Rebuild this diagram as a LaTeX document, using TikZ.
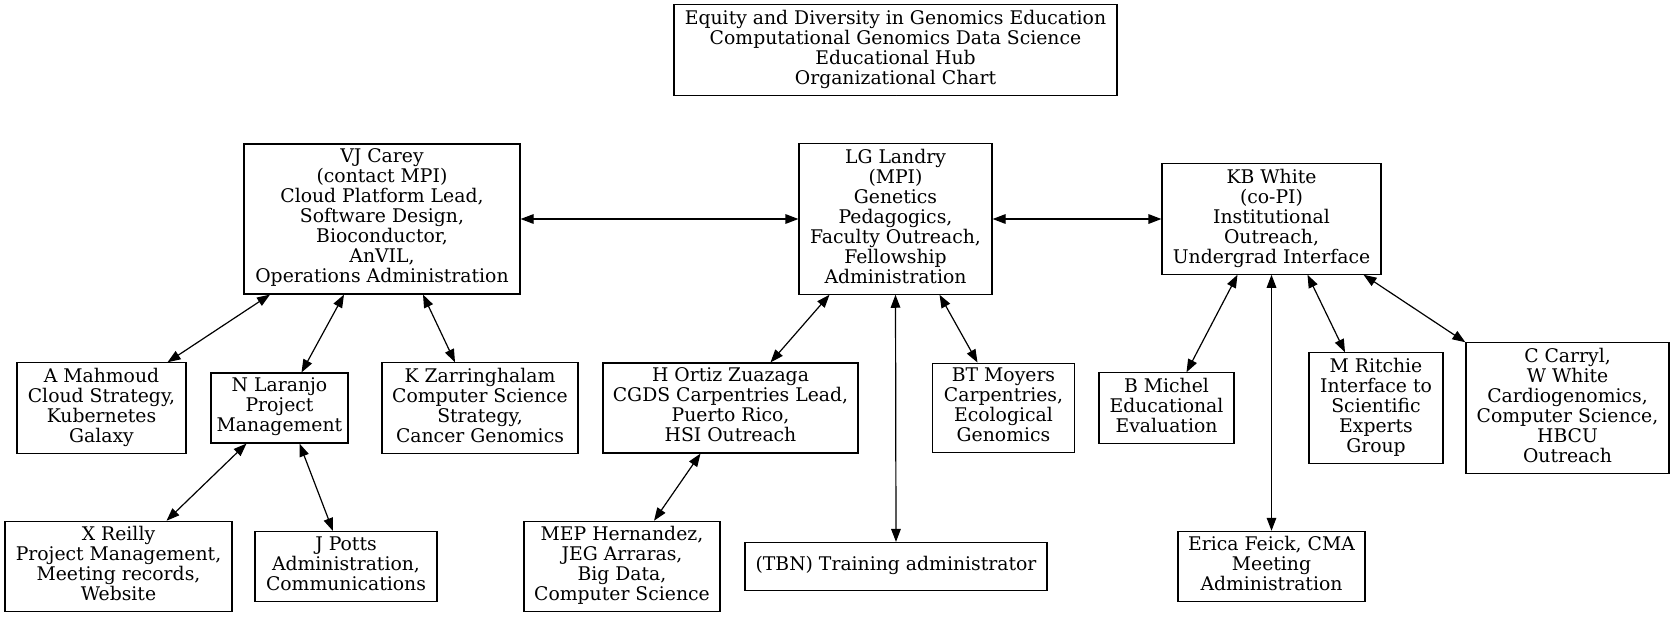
\documentclass[tikz,border=0pt]{standalone}
\usepackage{fontspec}
\setmainfont{DejaVu Serif}
\usetikzlibrary{arrows.meta}

\begin{document}
\begin{tikzpicture}[x=0.5pt,y=0.5pt,yscale=-1,xscale=1,
		box/.style={draw, line width=0.6pt, align=center, inner xsep=2pt, inner ysep=2.5pt, minimum height=24pt,
			font=\fontsize{9.4}{10}\selectfont, execute at begin node=\strut, execute at end node=\strut},
		link/.style={line width=0.6pt, {Triangle[length=6.5pt,width=4.8pt]}-{Triangle[length=6.5pt,width=4.8pt]}}]
		% Set diagram size to the full chart
		\useasboundingbox (0,0) rectangle (1675,617);

		% Title box
		\node[box, minimum width=221.5pt] (title) at (895.5,50) {Equity and Diversity in Genomics Education\\Computational Genomics Data Science\\Educational Hub\\Organizational Chart};

		% Top row: leads
		\node[box, minimum width=96.5pt] (landry) at (895.5,219) {LG Landry\\(MPI)\\Genetics\\Pedagogics,\\Faculty Outreach,\\Fellowship\\Administration};
		\node[box, minimum width=138pt] (carey) at (382,219) {VJ Carey\\(contact MPI)\\Cloud Platform Lead,\\Software Design,\\Bioconductor,\\AnVIL,\\Operations Administration};
		\node[box, minimum width=109.5pt] (white) at (1271.5,219) {KB White\\(co-PI)\\Institutional\\Outreach,\\Undergrad Interface};

		% Middle row
		\node[box, minimum width=84.5pt] (mahmoud) at (101.5,408) {A Mahmoud\\Cloud Strategy,\\Kubernetes\\Galaxy};
		\node[box, minimum width=68.5pt] (laranjo) at (279.5,408) {N Laranjo\\Project\\Management};
		\node[box, minimum width=98pt] (zarring) at (480,408) {K Zarringhalam\\Computer Science\\Strategy,\\Cancer Genomics};
		\node[box, minimum width=127.5pt] (ortiz) at (730.5,408) {H Ortiz Zuazaga\\CGDS Carpentries Lead,\\Puerto Rico,\\HSI Outreach};
		\node[box, minimum width=71pt] (moyers) at (1003.5,408) {BT Moyers\\Carpentries,\\Ecological\\Genomics};
		\node[box, minimum width=67.5pt] (michel) at (1166.5,408) {B Michel\\Educational\\Evaluation};
		\node[box, minimum width=67pt] (ritchie) at (1376,408) {M Ritchie\\Interface to\\Scientific\\Experts\\Group};
		\node[box, minimum width=101.5pt] (carryl) at (1567.5,408) {C Carryl,\\W White\\Cardiogenomics,\\Computer Science,\\HBCU\\Outreach};

		% Bottom row
		\node[box, minimum width=113.5pt] (reilly) at (118.5,566.5) {X Reilly\\Project Management,\\Meeting records,\\Website};
		\node[box, minimum width=91pt] (potts) at (346,566.5) {J Potts\\Administration,\\Communications};
		\node[box, minimum width=98pt] (hernandez) at (622,566.5) {MEP Hernandez,\\JEG Arraras,\\Big Data,\\Computer Science};
		\node[box, minimum width=151pt] (tbn) at (896,566.5) {(TBN) Training administrator};
		\node[box, minimum width=93.5pt] (feick) at (1271.5,566.5) {Erica Feick, CMA\\Meeting\\Administration};

		% Hidden (white) link from the title
		\draw[white, line width=1pt] (title.south) -- (landry.north);

		% Links between the leads
		\draw[link] (carey.east) -- (landry.west);
		\draw[link] (landry.east) -- (white.west);

		% Links below VJ Carey
		\draw[link] ([xshift=-56pt]carey.south) -- ([xshift=33pt]mahmoud.north);
		\draw[link] ([xshift=-19pt]carey.south) -- ([xshift=11pt]laranjo.north);
		\draw[link] ([xshift=20.5pt]carey.south) -- ([xshift=-12.5pt]zarring.north);
		\draw[link] ([xshift=-16.5pt]laranjo.south) -- ([xshift=24pt]reilly.north);
		\draw[link] ([xshift=10pt]laranjo.south) -- ([xshift=-6.5pt]potts.north);

		% Links below LG Landry
		\draw[link] ([xshift=-33pt]landry.south) -- ([xshift=20pt]ortiz.north);
		\draw[link] (landry.south) -- (tbn.north);
		\draw[link] ([xshift=22pt]landry.south) -- ([xshift=-13pt]moyers.north);
		\draw[link] ([xshift=-15pt]ortiz.south) -- ([xshift=16pt]hernandez.north);

		% Links below KB White
		\draw[link] ([xshift=-17pt]white.south) -- ([xshift=10pt]michel.north);
		\draw[link] (white.south) -- (feick.north);
		\draw[link] ([xshift=18pt]white.south) -- ([xshift=-15.5pt]ritchie.north);
		\draw[link] ([xshift=46pt]white.south) -- (carryl.north west);
	\end{tikzpicture}
\end{document}
